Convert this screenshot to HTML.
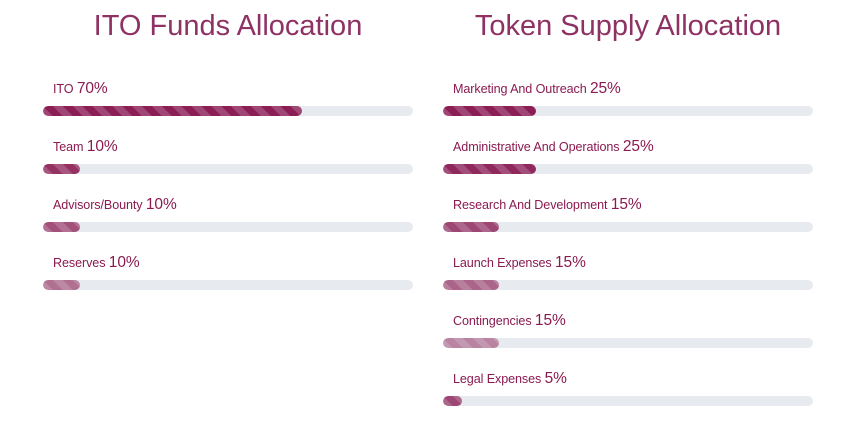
<!DOCTYPE html>
<html><head><meta charset="utf-8"><style>
body{margin:0;width:850px;height:434px;background:#fff;font-family:"Liberation Sans",sans-serif;position:relative;overflow:hidden}
.title{position:absolute;top:10px;width:400px;text-align:center;font-size:29px;color:#8e3264;margin:0;font-weight:normal}
.row{position:absolute;width:370px}
.lbl{position:absolute;left:10px;top:0;font-size:12.6px;color:#8a1a50;white-space:nowrap;letter-spacing:-0.1px}
.lbl b{font-weight:normal;font-size:15.5px}
.track{position:absolute;left:0;top:26px;width:370px;height:10px;border-radius:5px;background:#e7eaee;overflow:hidden}
.fill{height:10px;border-radius:5px;background-color:#8b1e55;background-image:repeating-linear-gradient(45deg,rgba(255,255,255,.18) 0 7px,transparent 7px 14px)}
</style></head><body>
<h2 class="title" style="left:28px">ITO Funds Allocation</h2>
<h2 class="title" style="left:428px">Token Supply Allocation</h2>
<div id="left"></div>
<div id="right"></div>
<script>
const leftLabels=["ITO","Team","Advisors/Bounty","Reserves"];
const leftValues=[70,10,10,10];
const leftOpacity=[1,0.9,0.75,0.6];
const rightLabels=["Marketing And Outreach","Administrative And Operations","Research And Development","Launch Expenses","Contingencies","Legal Expenses"];
const rightValues=[25,25,15,15,15,5];
const rightOpacity=[1,0.95,0.8,0.65,0.5,0.8];
function draw(id,x,labels,values,ops){
  const c=document.getElementById(id);
  labels.forEach((l,i)=>{
    const r=document.createElement('div');r.className='row';
    
    
    r.style.left=x+'px';r.style.top=(80+i*58)+'px';
    const lb=document.createElement('div');lb.className='lbl';
    
    
    lb.innerHTML=l+' <b>'+values[i]+'%</b>';
    const t=document.createElement('div');t.className='track';
    
    
    const f=document.createElement('div');f.className='fill';
    
    
    f.style.width=(values[i]/100*370)+'px';f.style.opacity=ops[i];
    t.appendChild(f);r.appendChild(lb);r.appendChild(t);c.appendChild(r);
  });
}
draw('left',43,leftLabels,leftValues,leftOpacity);
draw('right',443,rightLabels,rightValues,rightOpacity);
</script>
</body></html>
